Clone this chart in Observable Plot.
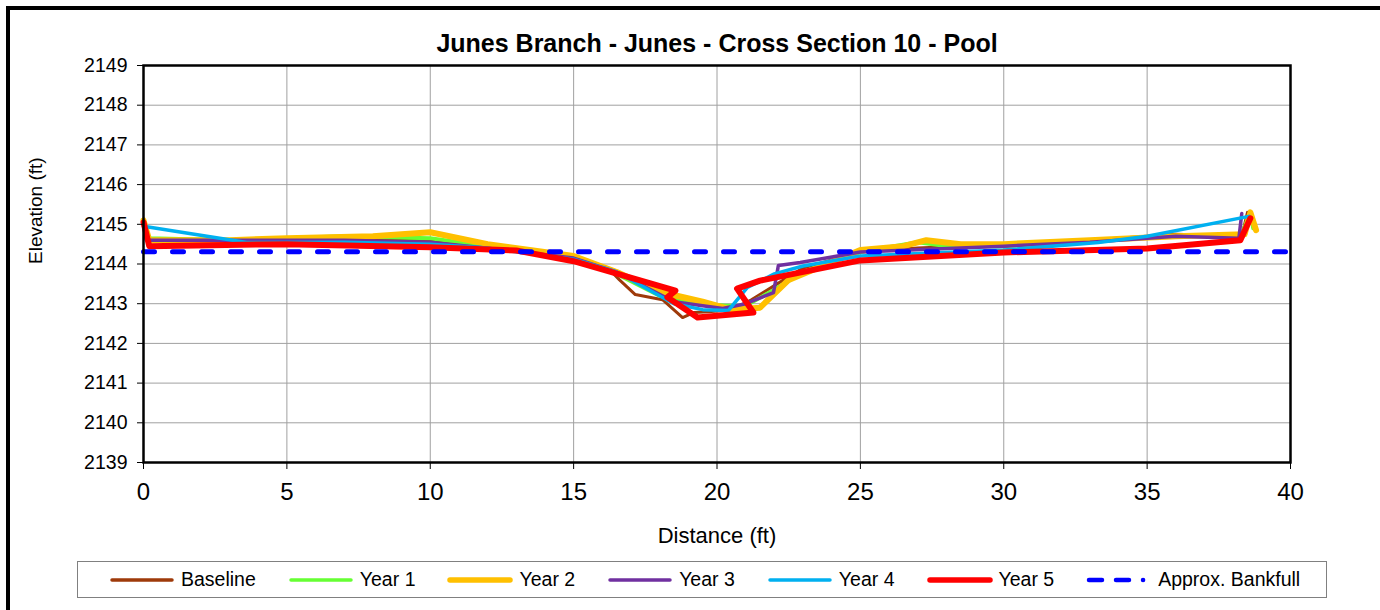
<!DOCTYPE html>
<html><head><meta charset="utf-8">
<script src="https://cdn.jsdelivr.net/npm/d3@7"></script>
<script src="https://cdn.jsdelivr.net/npm/@observablehq/plot@0.6"></script>
<style>
body{margin:0;background:#fff;}
#wrap{position:relative;width:1380px;height:610px;overflow:hidden;font-family:"Liberation Sans",Arial,sans-serif;background:#fff;}
#frame{position:absolute;left:6px;top:6px;width:1400px;height:700px;border-left:4px solid #000;border-top:4px solid #000;}
#chart{position:absolute;left:0;top:0;}
#legend{position:absolute;left:77px;top:561px;width:1250px;height:37px;border:1px solid #808080;box-sizing:border-box;display:flex;align-items:center;padding-left:30px;gap:31px;font-size:19.5px;color:#000;background:#fff;}
.item{display:flex;align-items:center;gap:5px}
.item svg{display:block}
</style></head>
<body>
<div id="wrap"><div id="frame"></div><div id="chart"></div><div id="legend"></div></div>
<script>
const title = "Junes Branch - Junes - Cross Section 10 - Pool";
const xLabel = "Distance (ft)";
const yLabel = "Elevation (ft)";
const xTicks = [0, 5, 10, 15, 20, 25, 30, 35, 40];
const yTicks = [2139, 2140, 2141, 2142, 2143, 2144, 2145, 2146, 2147, 2148, 2149];
const seriesNames = ["Baseline", "Year 1", "Year 2", "Year 3", "Year 4", "Year 5", "Approx. Bankfull"];
const seriesColors = ["#9E3A0A", "#66FF33", "#FFC000", "#7030A0", "#00B0F0", "#FF0000", "#0000FF"];

const baselineX = [0, 0.2, 3, 7, 10, 12, 13.5, 15, 16.2, 16.6, 17.15, 18.1, 18.8, 19.2, 19.7, 20.5, 21.2, 22.1, 23, 25, 27, 30, 33, 36, 38.3, 38.5];
const baselineY = [2145.0, 2144.6, 2144.6, 2144.65, 2144.6, 2144.45, 2144.3, 2144.15, 2143.9, 2143.6, 2143.23, 2143.1, 2142.65, 2142.78, 2142.8, 2142.85, 2143.1, 2143.5, 2143.9, 2144.3, 2144.4, 2144.5, 2144.6, 2144.75, 2144.7, 2145.3];

const year1X = [0, 0.2, 3, 7, 10, 12, 15, 16.5, 18, 19.5, 20.3, 21, 22, 23, 25, 27, 28, 30, 33, 36, 38.3, 38.6, 38.7];
const year1Y = [2145.05, 2144.65, 2144.6, 2144.7, 2144.65, 2144.45, 2144.15, 2143.75, 2143.2, 2143.0, 2142.95, 2142.95, 2143.35, 2143.8, 2144.3, 2144.55, 2144.45, 2144.45, 2144.6, 2144.7, 2144.75, 2145.3, 2144.9];

const year2X = [0, 0.2, 3, 5, 8, 10, 12, 15, 16.5, 18, 19.5, 20.5, 21.5, 22.5, 25, 26.5, 27.3, 28.5, 30, 33, 36, 38.4, 38.6, 38.8];
const year2Y = [2145.1, 2144.6, 2144.6, 2144.65, 2144.7, 2144.8, 2144.5, 2144.2, 2143.8, 2143.3, 2143.05, 2142.85, 2142.9, 2143.6, 2144.35, 2144.45, 2144.6, 2144.5, 2144.5, 2144.6, 2144.7, 2144.75, 2145.3, 2144.85];

const year3X = [0, 0.1, 3, 7, 10, 12, 15, 16.5, 18.5, 19.5, 20.2, 21, 21.97, 22.14, 22.9, 25, 30, 33, 36, 38.2, 38.3];
const year3Y = [2145.0, 2144.6, 2144.6, 2144.6, 2144.55, 2144.4, 2144.15, 2143.8, 2143.05, 2142.95, 2142.88, 2143.0, 2143.28, 2143.96, 2144.04, 2144.3, 2144.45, 2144.55, 2144.7, 2144.65, 2145.27];

const year4X = [0, 3.6, 7, 10, 12, 15, 16.5, 18.5, 19.5, 20.4, 21.06, 22, 23, 25, 30, 33.3, 35, 38.55];
const year4Y = [2144.95, 2144.54, 2144.55, 2144.5, 2144.4, 2144.12, 2143.8, 2143.0, 2142.85, 2142.83, 2143.41, 2143.75, 2143.95, 2144.2, 2144.35, 2144.54, 2144.7, 2145.2];

const year5X = [0, 0.2, 5, 10, 13, 15, 18.55, 18.27, 19.32, 21.27, 20.7, 21.5, 25, 30, 35, 38.25, 38.6];
const year5Y = [2145.05, 2144.45, 2144.5, 2144.42, 2144.34, 2144.07, 2143.33, 2143.16, 2142.65, 2142.78, 2143.38, 2143.58, 2144.09, 2144.29, 2144.39, 2144.6, 2145.15];

const bankfullX = [0, 40];
const bankfullY = [2144.31, 2144.31];

const seriesX = [baselineX, year1X, year2X, year3X, year4X, year5X, bankfullX];
const seriesY = [baselineY, year1Y, year2Y, year3Y, year4Y, year5Y, bankfullY];
const widths = [3, 4, 6, 3.5, 3.5, 6, 5];

const rows = seriesNames.map((name, i) => seriesX[i].map((x, j) => ({series: name, x, y: seriesY[i][j]})));

const lineMarks = rows.map((data, i) => Plot.line(data, {
  x: "x", y: "y", stroke: seriesColors[i], strokeWidth: widths[i],
  strokeLinejoin: "round", strokeLinecap: "round",
  strokeDasharray: i === 6 ? "11,18" : null
}));

const font = "'Liberation Sans', Arial, sans-serif";
const plot = Plot.plot({
  width: 1380, height: 610,
  marginLeft: 143, marginRight: 90, marginTop: 65, marginBottom: 148,
  style: {fontFamily: font, background: "transparent", color: "#000"},
  x: {domain: [0, 40]},
  y: {domain: [2139, 2149]},
  marks: [
    Plot.gridX(xTicks, {stroke: "#a0a0a0", strokeOpacity: 1, strokeWidth: 1}),
    Plot.gridY(yTicks, {stroke: "#a0a0a0", strokeOpacity: 1, strokeWidth: 1}),
    ...lineMarks,
    Plot.frame({stroke: "#000", strokeWidth: 2.5}),
    Plot.axisY(yTicks, {tickSize: 6, tickPadding: 10, fontSize: 19.5, label: null, stroke: "#000", tickFormat: d => String(d)}),
    Plot.axisX(xTicks, {tickSize: 7, tickPadding: 13, fontSize: 24, label: null, stroke: "#000", tickFormat: d => String(d)}),
    Plot.text([title], {frameAnchor: "top", dy: -31, fontSize: 25, fontWeight: "bold", fill: "#000"}),
    Plot.text([xLabel], {frameAnchor: "bottom", dy: 80, fontSize: 22, fill: "#000"}),
    Plot.text([yLabel], {frameAnchor: "left", dx: -108, rotate: -90, fontSize: 19, fill: "#000"})
  ]
});
document.getElementById("chart").appendChild(plot);

const legend = document.getElementById("legend");
seriesNames.forEach((name, i) => {
  const item = document.createElement("div");
  item.className = "item";
  const dash = i === 6 ? 'stroke-dasharray="13,14,13,14,0.1,20"' : "";
  const lw = (i === 2 || i === 5) ? 5.5 : (i === 6 ? 4.5 : 3.5);
  item.innerHTML = `<svg width="68" height="10"><line x1="4" y1="5" x2="64" y2="5" stroke="${seriesColors[i]}" stroke-width="${lw}" stroke-linecap="round" ${dash}/></svg><span>${name}</span>`;
  legend.appendChild(item);
});
</script>
</body></html>
